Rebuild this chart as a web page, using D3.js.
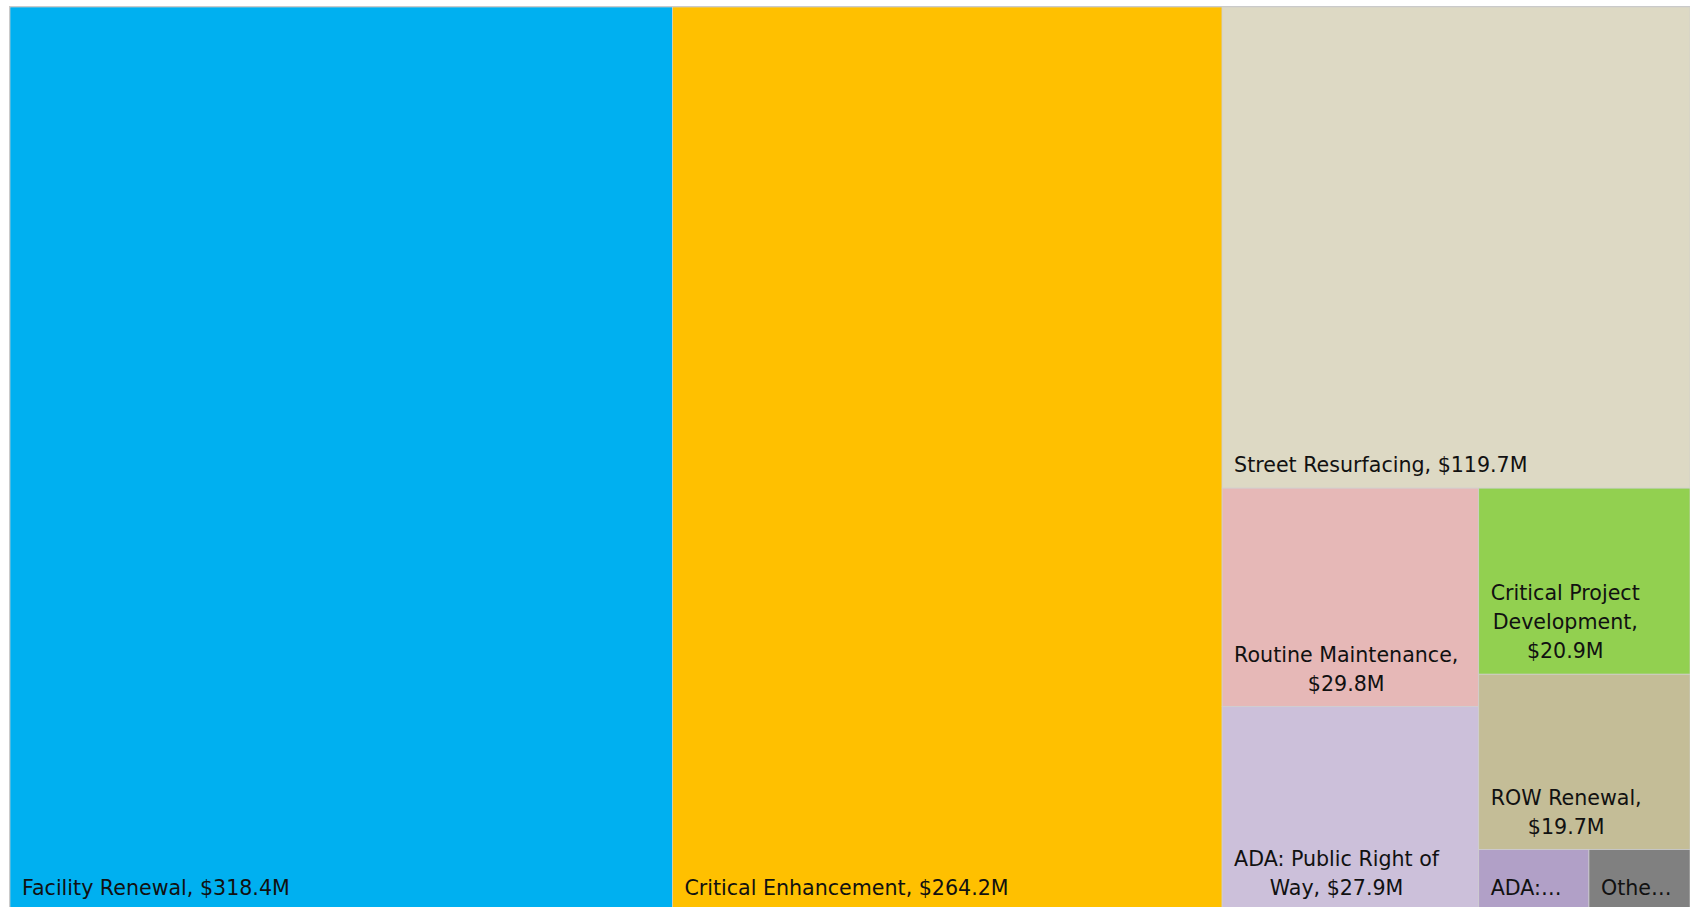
<!DOCTYPE html>
<html>
<head>
<meta charset="utf-8">
<script src="https://cdn.jsdelivr.net/npm/d3@7"></script>
<style>
  html, body { margin: 0; padding: 0; background: #fff; overflow: hidden; }
  svg { display: block; }
  .lbl { font-family: "DejaVu Sans", sans-serif; font-size: 20.6px; fill: #111; }
</style>
</head>
<body>
<svg id="chart" width="1690" height="907"></svg>
<script>
// budget by program, $M
var categories = ["Facility Renewal", "Critical Enhancement", "Street Resurfacing", "Routine Maintenance",
  "ADA: Public Right of Way", "Critical Project Development", "ROW Renewal", "ADA", "Other"];
var values = [318.4, 264.2, 119.7, 29.8, 27.9, 20.9, 19.7, 3.6, 3.3];
var colors = ["#00B0F0", "#FFC000", "#DDD9C4", "#E6B8B7", "#CCC0DA", "#92D050", "#C4BD97", "#B1A0C7", "#808080"];
// text as shown in each cell (wrapped / cut like the original)
var labelLines = [
  ["Facility Renewal, $318.4M"],
  ["Critical Enhancement, $264.2M"],
  ["Street Resurfacing, $119.7M"],
  ["Routine Maintenance,", "$29.8M"],
  ["ADA: Public Right of", "Way, $27.9M"],
  ["Critical Project", "Development,", "$20.9M"],
  ["ROW Renewal,", "$19.7M"],
  ["ADA:\u2026"],
  ["Othe\u2026"]
];

var svg = d3.select("#chart");
var offX = 10, offY = 7, w = 1680, h = 904;
var pad = 12, bottomPad = 16, lineH = 29;

var data = categories.map(function(c, i){
  return {name: c, value: values[i], color: colors[i], lines: labelLines[i]};
});

var root = d3.hierarchy({children: data})
    .sum(function(d){ return d.value || 0; })
    .sort(function(a, b){ return b.value - a.value; });

d3.treemap()
    .tile(d3.treemapSquarify.ratio(1))
    .size([w, h])(root);

var g = svg.append("g").attr("transform", "translate(" + offX + "," + offY + ")");

g.append("rect")
  .attr("x", -0.5).attr("y", -0.5)
  .attr("width", w + 1).attr("height", h + 1)
  .attr("fill", "none")
  .attr("stroke", "#c8c8c8");

var cells = g.selectAll("g.cell").data(root.leaves()).enter()
  .append("g").attr("class", "cell");

cells.append("rect")
  .attr("x", function(d){ return d.x0; })
  .attr("y", function(d){ return d.y0; })
  .attr("width", function(d){ return d.x1 - d.x0; })
  .attr("height", function(d){ return d.y1 - d.y0; })
  .attr("fill", function(d){ return d.data.color; })
  .attr("stroke", "#cfcfcf")
  .attr("stroke-width", 0.7);

cells.each(function(d){
  var cell = d3.select(this);
  var lines = d.data.lines;
  var n = lines.length;
  var texts = lines.map(function(t, i){
    return cell.append("text")
      .attr("class", "lbl")
      .attr("y", d.y1 - bottomPad - (n - 1 - i) * lineH)
      .text(t);
  });
  var widths = texts.map(function(t){ return t.node().getComputedTextLength(); });
  var blockW = d3.max(widths);
  texts.forEach(function(t, i){
    t.attr("x", d.x0 + pad + (blockW - widths[i]) / 2);
  });
});
</script>
</body>
</html>
